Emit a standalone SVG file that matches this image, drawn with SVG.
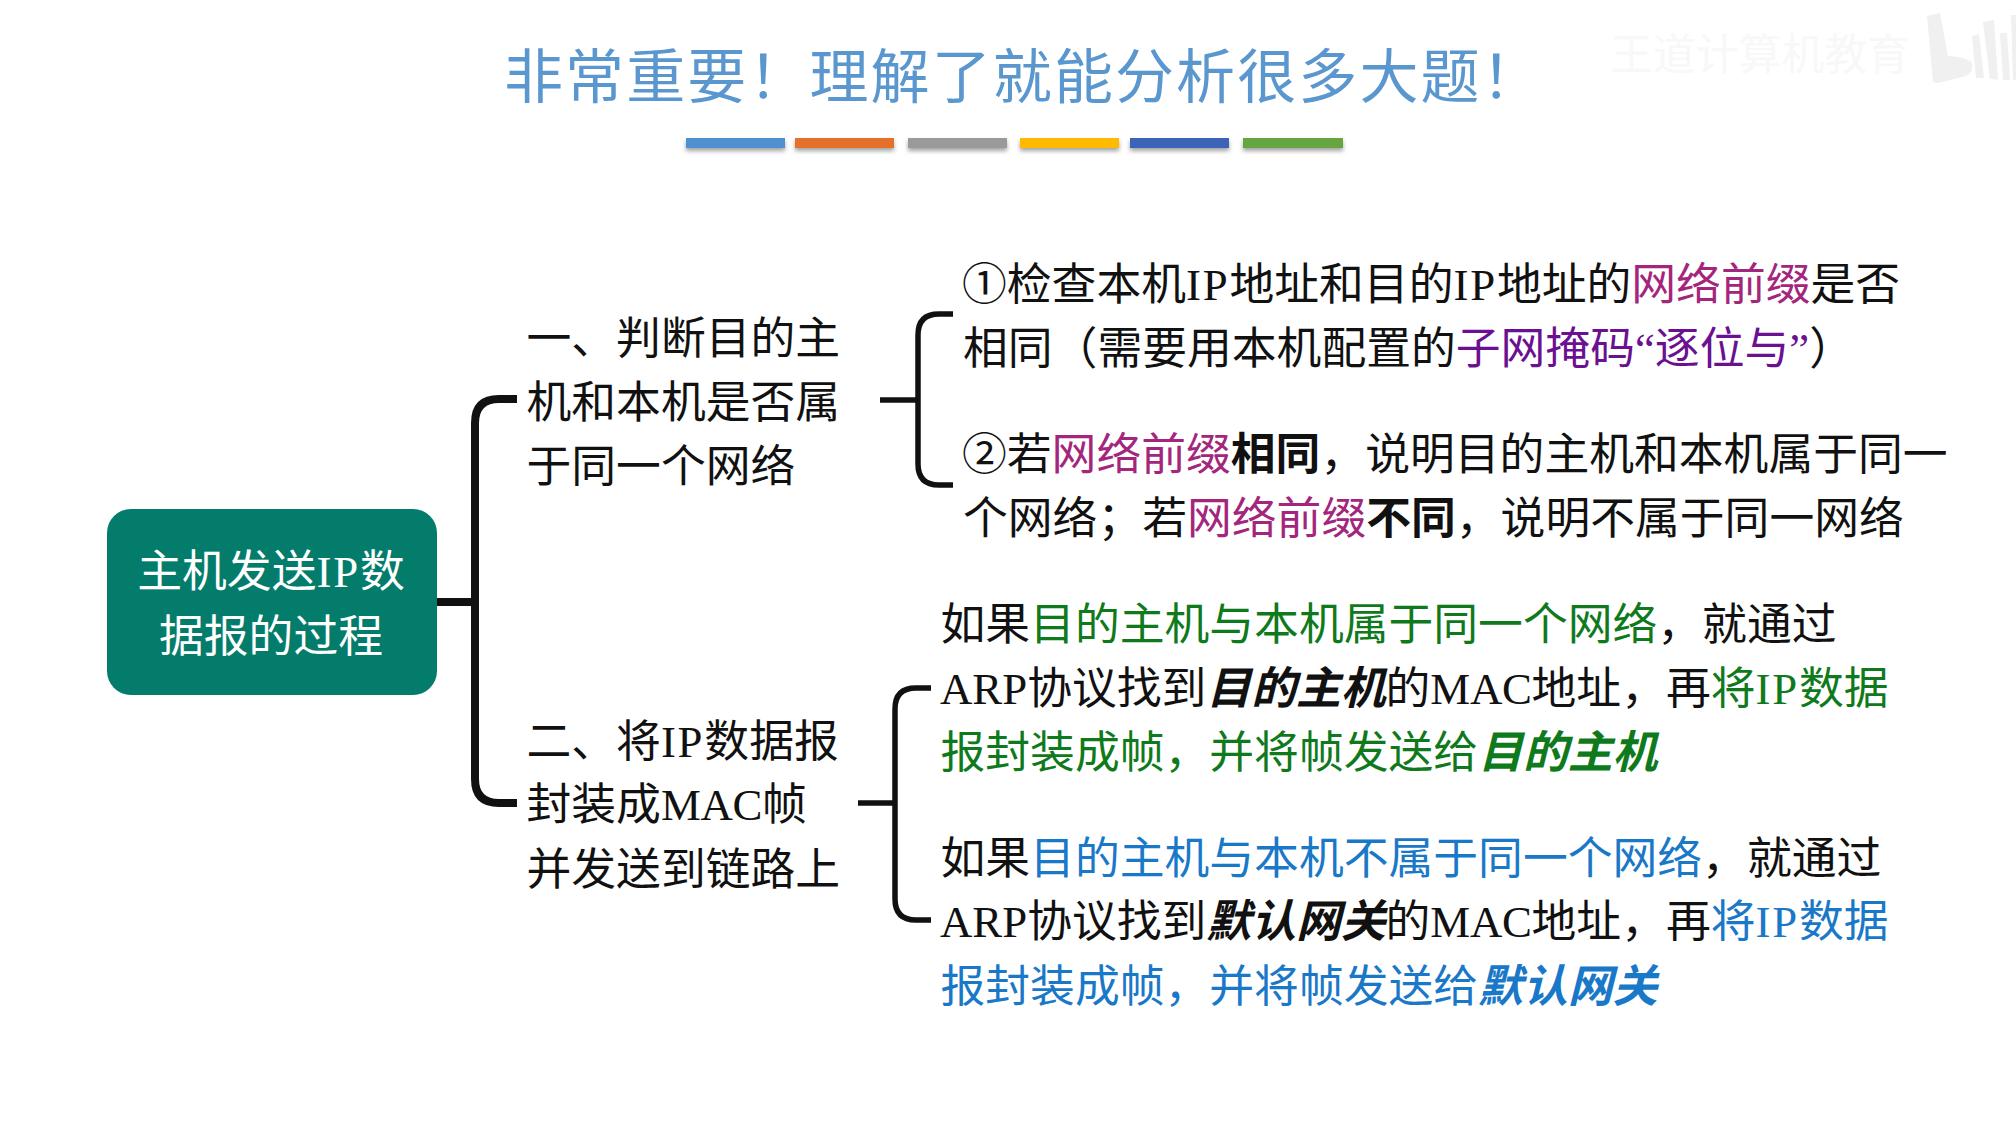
<svg xmlns="http://www.w3.org/2000/svg" width="2016" height="1125" viewBox="0 0 2016 1125">
<defs>
<filter id="sh" x="-10%" y="-50%" width="120%" height="220%"><feDropShadow dx="0" dy="3" stdDeviation="2" flood-color="#555" flood-opacity="0.55"/></filter>
</defs>
<style>
text{font-family:"Liberation Serif","Noto Sans CJK SC",sans-serif;font-size:44.8px;fill:#111}
.title{font-family:"Noto Sans CJK SC",sans-serif;font-size:59px;font-weight:400;fill:#5b97cf;letter-spacing:2.1px}
.wm{font-family:"Noto Sans CJK SC",sans-serif;font-size:43px;fill:#f8f8f8}
.root{fill:#fff;text-anchor:middle}
.pk{fill:#a3267c}.pu{fill:#6b1090}.gr{fill:#0f7a1c}.bl{fill:#1a78c8}
.b{font-weight:700}.i{font-weight:700;font-style:italic}
.ip{letter-spacing:1.8px}.mac{letter-spacing:-0.3px}
.c{fill:none;stroke:#111;stroke-linecap:butt}
.c1{stroke-width:8}.c2{stroke-width:5.5}
.bar{filter:url(#sh)}
</style>
<rect width="2016" height="1125" fill="#fff"/>
<g id="watermark">
<text class="wm" x="1610" y="70" textLength="300">王道计算机教育</text>
<g fill="#f0f0f0">
<path d="M1927 16L1940 13L1948 56Q1962 56 1972 62Q1974 72 1966 76L1938 83L1933 82Z"/>
<path d="M1972 36L1979 34L1984 78L1976 78Z"/>
<path d="M1983 22L1994 20L1998 80L1990 79Z"/>
<path d="M2000 33L2007 33L2010 80L2003 80Z"/>
<path d="M2011 15L2016 15L2016 80L2013 80Z"/>
</g>
</g>
<g id="title">
<text class="title" x="504" y="98">非常重要！理解了就能分析很多大题！</text>
<g class="bar">
<rect x="686" y="138" width="99" height="10" fill="#4f90d0"/>
<rect x="795" y="138" width="99" height="10" fill="#e4702a"/>
<rect x="908" y="138" width="99" height="10" fill="#9a9a9a"/>
<rect x="1020" y="138" width="99" height="10" fill="#ffb900"/>
<rect x="1130" y="138" width="99" height="10" fill="#3a63b8"/>
<rect x="1243" y="138" width="100" height="10" fill="#66a53f"/>
</g>
</g>
<g id="connectors">
<path class="c c1" d="M437 602H475"/>
<path class="c c1" d="M517 399H499Q475 399 475 423V779Q475 803 499 803H517"/>
<path class="c c2" d="M880 400H918"/>
<path class="c c2" d="M953 314H939Q918 314 918 335V464Q918 485 939 485H953"/>
<path class="c c2" d="M858 803H895"/>
<path class="c c2" d="M931 688H916Q895 688 895 709V899Q895 920 916 920H931"/>
</g>
<g id="root">
<rect x="107" y="509" width="330" height="186" rx="24" fill="#047c6c"/>
<text class="root" x="271" y="587">主机发送<tspan class="ip">IP</tspan>数</text>
<text class="root" x="271" y="652">据报的过程</text>
</g>
<g id="step1">
<text x="526.5" y="354">一、判断目的主</text>
<text x="526.5" y="418">机和本机是否属</text>
<text x="526.5" y="482">于同一个网络</text>
</g>
<g id="step2">
<text x="526.5" y="757">二、将<tspan class="ip">IP</tspan>数据报</text>
<text x="526.5" y="820">封装成<tspan class="mac">MAC</tspan>帧</text>
<text x="526.5" y="885">并发送到链路上</text>
</g>
<g id="detail1">
<text x="962" y="300">①检查本机<tspan class="ip">IP</tspan>地址和目的<tspan class="ip">IP</tspan>地址的<tspan class="pk">网络前缀</tspan>是否</text>
<text x="963" y="364">相同（需要用本机配置的<tspan class="pu">子网掩码“逐位与”</tspan>）</text>
</g>
<g id="detail2">
<text x="962" y="470">②若<tspan class="pk">网络前缀</tspan><tspan class="b">相同</tspan>，说明目的主机和本机属于同一</text>
<text x="963" y="534">个网络；若<tspan class="pk">网络前缀</tspan><tspan class="b">不同</tspan>，说明不属于同一网络</text>
</g>
<g id="detail3">
<text x="940.500" y="640">如果<tspan class="gr">目的主机与本机属于同一个网络</tspan>，就通过</text>
<text x="940" y="704">ARP协议找到<tspan class="i">目的主机</tspan>的<tspan class="mac">MAC</tspan>地址，再<tspan class="gr">将<tspan class="ip">IP</tspan>数据</tspan></text>
<text x="940.500" y="768" class="gr">报封装成帧，并将帧发送给<tspan class="i">目的主机</tspan></text>
</g>
<g id="detail4">
<text x="940.500" y="874">如果<tspan class="bl">目的主机与本机不属于同一个网络</tspan>，就通过</text>
<text x="940" y="937">ARP协议找到<tspan class="i">默认网关</tspan>的<tspan class="mac">MAC</tspan>地址，再<tspan class="bl">将<tspan class="ip">IP</tspan>数据</tspan></text>
<text x="940.500" y="1002" class="bl">报封装成帧，并将帧发送给<tspan class="i">默认网关</tspan></text>
</g>
</svg>
